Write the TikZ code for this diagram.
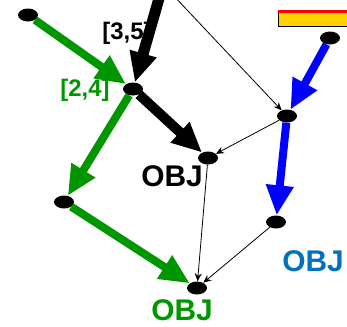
\documentclass[tikz,border=0pt]{standalone}
\usepackage{fontspec}
\setmainfont{Liberation Sans}
\usetikzlibrary{arrows.meta,shapes.geometric}

\definecolor{flowgreen}{RGB}{0,150,0}
\definecolor{objblue}{RGB}{0,112,192}
\definecolor{baryellow}{RGB}{255,210,0}

\begin{document}
\begin{tikzpicture}[x=1bp,y=-1bp,
    dot/.style={ellipse,fill=black,inner sep=0pt,minimum width=20bp,minimum height=13bp},
    heavy/.style={line width=#1,-{Triangle[length=30bp,width=26bp]}},
    fine/.style={line width=0.8bp,-{Stealth[length=8bp,width=7bp]}},
    objlabel/.style={font=\bfseries\fontsize{30}{32}\selectfont},
    rangelabel/.style={font=\bfseries\fontsize{24}{26}\selectfont}]
        \useasboundingbox (0,0) rectangle (347,327);
        \clip (0,0) rectangle (347,327);

        % Knoten
        \node[dot] (s) at (28,15) {};
        \node[dot] (m) at (133,89) {};
        \node[dot] (c) at (208,158) {};
        \node[dot] (r) at (287,116) {};
        \node[dot] (t) at (330,38) {};
        \node[dot] (l) at (64,202) {};
        \node[dot] (b) at (276,222) {};
        \node[dot] (e) at (197,288) {};
        \coordinate (topthick) at (162,-12);
        \coordinate (topthin) at (172,-6);

        % Balken oben rechts
        \filldraw[fill=baryellow,draw=black,line width=1bp] (278,10) rectangle (350,26);
        \fill[red] (278,9.5) rectangle (350,12.5);

        % schwarze Pfeile
        \draw[heavy=11bp] (topthick) -- (m);
        \draw[heavy=10bp] (m) -- (c);
        \draw[fine] (topthin) -- (r);
        \draw[fine] (r) -- (c);
        \draw[fine] (c) -- (e);
        \draw[fine] (b) -- (e);

        % gruene Pfeile
        \draw[heavy=8bp,flowgreen] (s) -- (m);
        \draw[heavy=8bp,flowgreen] (m) -- (l);
        \draw[heavy=8bp,flowgreen] (l) -- (e);

        % blaue Pfeile
        \draw[heavy=8bp,blue] (t) -- (r);
        \draw[heavy=8bp,blue] (r) -- (b);

        % Beschriftungen
        \node[rangelabel] (lab35) at (127,33) {[3,5]};
        \node[rangelabel,text=flowgreen] (lab24) at (85,90) {[2,4]};
        \node[objlabel] (objc) at (172,176) {OBJ};
        \node[objlabel,text=flowgreen] (obje) at (182,310) {OBJ};
        \node[objlabel,text=objblue] (objb) at (313,261) {OBJ};
    \end{tikzpicture}
\end{document}
